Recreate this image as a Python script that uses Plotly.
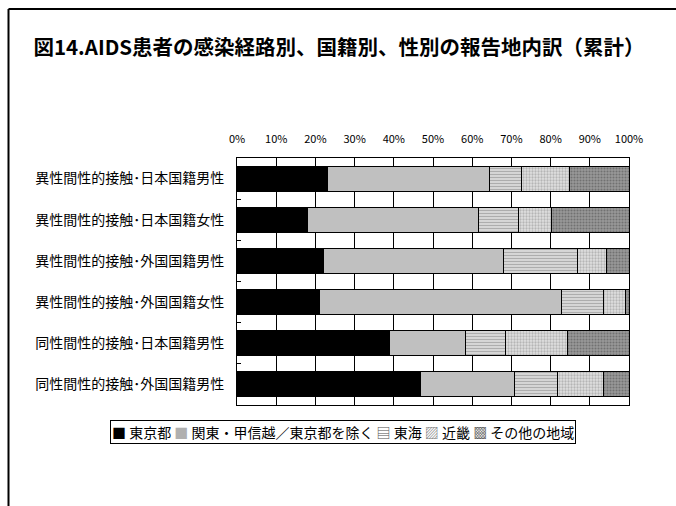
import plotly.graph_objects as go

categories = [
    "異性間性的接触･日本国籍男性",
    "異性間性的接触･日本国籍女性",
    "異性間性的接触･外国国籍男性",
    "異性間性的接触･外国国籍女性",
    "同性間性的接触･日本国籍男性",
    "同性間性的接触･外国国籍男性",
]
series_names = ["東京都", "関東・甲信越／東京都を除く", "東海", "近畿", "その他の地域"]
tokyo = [23.0, 18.0, 22.0, 21.1, 39.0, 46.7]
kanto = [41.5, 43.5, 46.1, 61.7, 19.4, 24.2]
tokai = [8.0, 10.4, 18.7, 10.6, 10.1, 10.8]
kinki = [12.2, 8.3, 7.4, 5.7, 15.9, 11.8]
other = [15.3, 19.8, 5.8, 0.9, 15.6, 6.5]
series_values = [tokyo, kanto, tokai, kinki, other]
x_tick_vals = [0, 10, 20, 30, 40, 50, 60, 70, 80, 90, 100]
x_tick_text = [f"{v}%" for v in x_tick_vals]

fills = [
    dict(color="#000000"),
    dict(color="#c0c0c0"),
    dict(color="#ffffff", pattern=dict(shape="-", fgcolor="#6a6a6a", bgcolor="#f0f0f0", size=3, solidity=0.6)),
    dict(color="#ffffff", pattern=dict(shape=".", fgcolor="#8a8a8a", bgcolor="#e0e0e0", size=3, solidity=0.45)),
    dict(color="#888888", pattern=dict(shape=".", fgcolor="#4a4a4a", bgcolor="#999999", size=3, solidity=0.4)),
]
legend_symbols = ["■", "■", "▤", "▨", "▩"]
legend_colors = ["#000000", "#b0b0b0", "#505050", "#808080", "#606060"]

W, H = 676, 506
ML, MR, MT, MB = 237, 47, 158, 101
PW, PH = W - ML - MR, H - MT - MB

def px_to_paper_x(px):
    return (px - ML) / PW

def px_to_paper_y(py):
    return (H - MB - py) / PH

fig = go.Figure()
for name, vals, f in zip(series_names, series_values, fills):
    marker = dict(color=f["color"], line=dict(color="#000000", width=1))
    if "pattern" in f:
        marker["pattern"] = f["pattern"]
    fig.add_trace(go.Bar(
        y=categories, x=vals, name=name, orientation="h",
        marker=marker, showlegend=False,
    ))

legend_text = " ".join(
    f'<span style="color:{c}">{s}</span> {n}'
    for s, c, n in zip(legend_symbols, legend_colors, series_names)
)

fig.update_layout(
    width=W, height=H,
    margin=dict(l=ML, r=MR, t=MT, b=MB),
    barmode="stack",
    bargap=0.39,
    plot_bgcolor="#ffffff",
    paper_bgcolor="#ffffff",
    font=dict(family="Noto Sans CJK JP", color="#000000"),
    title=dict(
        text="図14.AIDS患者の感染経路別、国籍別、性別の報告地内訳（累計）",
        x=(38 + 640) / 2 / W, xref="container", xanchor="center",
        y=1 - 48 / H, yref="container", yanchor="middle",
        font=dict(family="Noto Sans CJK JP", size=20.5, weight="bold", color="#000000"),
    ),
    xaxis=dict(
        side="top", range=[0, 100], tickvals=x_tick_vals, ticktext=x_tick_text,
        showgrid=True, gridcolor="#000000", gridwidth=1,
        showline=True, linecolor="#000000", linewidth=1, mirror=True,
        ticks="", zeroline=False,
        tickfont=dict(family="Noto Sans CJK JP", size=11),
        ticklabelstandoff=10,
    ),
    yaxis=dict(
        autorange="reversed",
        showline=True, linecolor="#000000", linewidth=1, mirror=True,
        ticks="inside", tickson="boundaries", ticklen=4, tickcolor="#000000",
        showgrid=False,
        tickfont=dict(family="Noto Sans CJK JP", size=14),
        ticklabelstandoff=9,
    ),
    annotations=[dict(
        text=legend_text, xref="paper", yref="paper",
        x=px_to_paper_x(342.5), y=px_to_paper_y(431.5),
        xanchor="center", yanchor="middle", showarrow=False,
        bordercolor="#000000", borderwidth=1, borderpad=1,
        font=dict(family="Noto Sans CJK JP", size=14, color="#000000"),
    )],
    shapes=[
        dict(type="line", xref="paper", yref="paper",
             x0=px_to_paper_x(8.5), x1=px_to_paper_x(8.5),
             y0=px_to_paper_y(9), y1=px_to_paper_y(H + 5),
             line=dict(color="#000000", width=2)),
        dict(type="line", xref="paper", yref="paper",
             x0=px_to_paper_x(8.5), x1=px_to_paper_x(W + 5),
             y0=px_to_paper_y(9), y1=px_to_paper_y(9),
             line=dict(color="#000000", width=2)),
    ],
)

fig.write_html("out.html")
